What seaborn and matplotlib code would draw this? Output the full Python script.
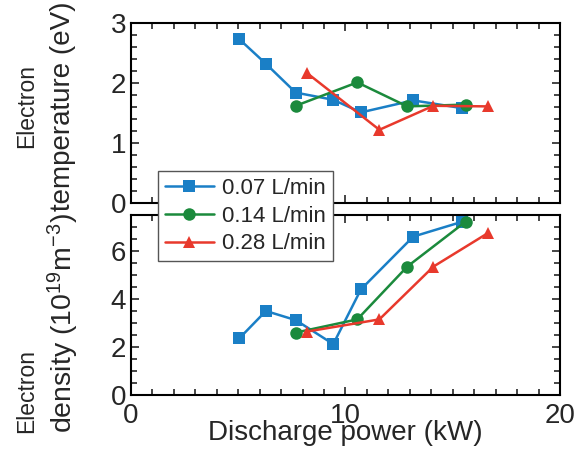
import pandas as pd
import seaborn as sns
import matplotlib.pyplot as plt
from matplotlib.ticker import MultipleLocator

# flow rates and readings
flows = ["0.07 L/min", "0.14 L/min", "0.28 L/min"]
colors = ["#1a7fc6", "#1b8a3c", "#e8392c"]
markers = ["s", "o", "^"]

power_007 = [5.05, 6.29, 7.68, 9.43, 10.72, 13.16, 15.45]
temp_007 = [2.73, 2.32, 1.84, 1.72, 1.51, 1.71, 1.58]
dens_007 = [2.36, 3.50, 3.12, 2.12, 4.40, 6.60, 7.22]

power_014 = [7.68, 10.55, 12.88, 15.6]
temp_014 = [1.62, 2.01, 1.61, 1.64]
dens_014 = [2.60, 3.15, 5.35, 7.22]

power_028 = [8.19, 11.58, 14.1, 16.63]
temp_028 = [2.17, 1.22, 1.62, 1.61]
dens_028 = [2.64, 3.15, 5.35, 6.74]

rows = []
for flow, p, t, d in zip(flows, [power_007, power_014, power_028],
                         [temp_007, temp_014, temp_028],
                         [dens_007, dens_014, dens_028]):
    for pi, ti, di in zip(p, t, d):
        rows.append({"flow": flow, "power": pi, "temp": ti, "dens": di})
df = pd.DataFrame(rows)

sns.set_style("ticks")
plt.rcParams['font.family'] = ['Liberation Sans', 'DejaVu Sans']
plt.rcParams['mathtext.fontset'] = 'custom'
plt.rcParams['mathtext.rm'] = 'Liberation Sans'
plt.rcParams['mathtext.it'] = 'Liberation Sans'

fig = plt.figure(figsize=(5.83, 4.49), dpi=100)
ax1 = fig.add_axes([0.2247, 0.5479, 0.7358, 0.4009])
ax2 = fig.add_axes([0.2247, 0.1203, 0.7358, 0.4009])

pal = dict(zip(flows, colors))
mk = dict(zip(flows, markers))
for ax, col in [(ax1, "temp"), (ax2, "dens")]:
    sns.lineplot(data=df, x="power", y=col, hue="flow", style="flow",
                 palette=pal, markers=mk, dashes=False, sort=False,
                 markersize=9, markeredgewidth=0, linewidth=1.8,
                 ax=ax, legend=(ax is ax1))

ax1.set_ylim(0, 3)
ax2.set_ylim(0, 7.5)
for ax in (ax1, ax2):
    ax.set_xlim(0, 20)
    ax.xaxis.set_major_locator(MultipleLocator(10))
    ax.xaxis.set_minor_locator(MultipleLocator(1))
    ax.tick_params(which="both", direction="in", top=True, right=True,
                   width=1.2, labelsize=20)
    ax.tick_params(which="major", length=6)
    ax.tick_params(which="minor", length=4)
    for s in ax.spines.values():
        s.set_linewidth(1.5)
        s.set_color("black")
    ax.set_ylabel("")
ax1.yaxis.set_major_locator(MultipleLocator(1))
ax1.yaxis.set_minor_locator(MultipleLocator(0.2))
ax2.yaxis.set_major_locator(MultipleLocator(2))
ax2.yaxis.set_minor_locator(MultipleLocator(0.5))
ax1.set_xlabel("")
ax1.tick_params(labelbottom=False)
ax2.tick_params(axis="x", pad=6)
ax2.set_xlabel("Discharge power (kW)", fontsize=20, labelpad=-7)

# two-line y labels, second line drawn larger as in the original
fig.text(27 / 583, 1 - 106 / 449, "Electron", rotation=90,
         ha="center", va="center", fontsize=16.5)
fig.text(63 / 583, 1 - 106 / 449, "temperature (eV)", rotation=90,
         ha="center", va="center", fontsize=20)
fig.text(27 / 583, 1 - 391 / 449, "Electron", rotation=90,
         ha="center", va="center", fontsize=16.5)
fig.text(63 / 583, 1 - 323 / 449, "density (10$^{19}$m$^{-3}$)",
         rotation=90, ha="center", va="center", fontsize=20.5)

handles, labels = ax1.get_legend_handles_labels()
ax1.get_legend().remove()
leg = fig.legend(handles, labels, loc="upper left",
                 bbox_to_anchor=(0.252, 0.643), fontsize=16, frameon=True,
                 fancybox=False, edgecolor="#555555", framealpha=1,
                 handlelength=2.2, borderpad=0.3, labelspacing=0.3,
                 handletextpad=0.4)
leg.get_frame().set_linewidth(1.0)

fig.savefig("out.png", dpi=100)
